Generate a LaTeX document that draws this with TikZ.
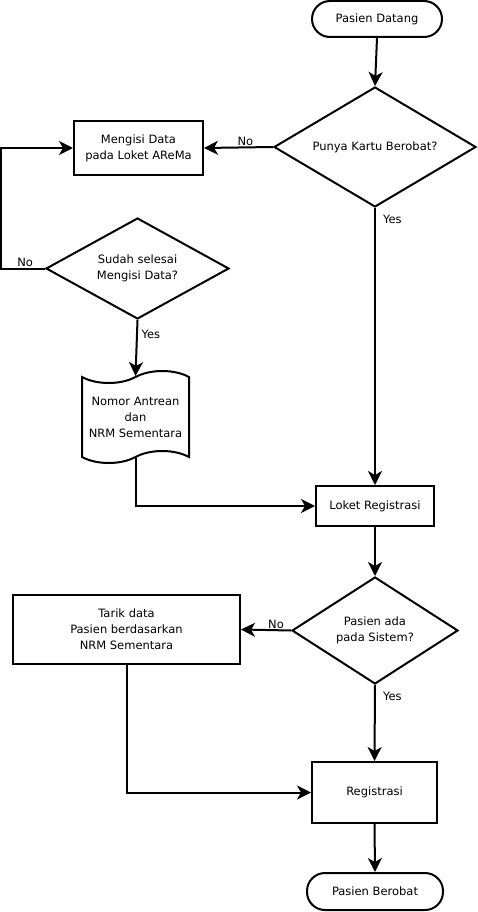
\documentclass[tikz,border=0pt]{standalone}
\usepackage{fontspec}
\setmainfont{DejaVu Sans}
\usetikzlibrary{shapes.geometric,shapes.symbols,arrows.meta,positioning}

\begin{document}
\begin{tikzpicture}[x=1pt,y=-1pt,line width=2pt,
    every node/.style={font=\fontsize{11.5}{16}\selectfont,align=center,inner sep=2pt},
    terminal/.style={draw,rectangle,rounded corners=18pt},
    prosesbox/.style={draw,rectangle},
    keputusan/.style={draw,diamond,inner sep=0pt,aspect=1.7},
    dokumen/.style={draw,tape,tape bend height=12pt},
    arr/.style={-{Stealth[length=14pt,width=14pt,inset=4pt]}},
    lbl/.style={font=\fontsize{11.5}{13}\selectfont,inner sep=1pt}]
\useasboundingbox (0,0) rectangle (477,912);

\node[terminal,minimum width=130pt,minimum height=36pt] (datang) at (377,19) {Pasien Datang};
\node[keputusan,minimum width=202pt,minimum height=120pt] (kartu) at (375,147) {Punya Kartu Berobat?};
\node[prosesbox,minimum width=129pt,minimum height=54pt] (isi) at (138.5,148) {Mengisi Data\\pada Loket AReMa};
\node[keputusan,minimum width=183pt,minimum height=101pt,aspect=1.8] (selesai) at (137.5,268.5) {Sudah selesai\\Mengisi Data?};
\node[dokumen,minimum width=107pt,minimum height=92pt] (nomor) at (135.5,417) {Nomor Antrean\\dan\\NRM Sementara};
\node[prosesbox,minimum width=118pt,minimum height=40pt] (loket) at (375,506) {Loket Registrasi};
\node[keputusan,minimum width=166pt,minimum height=107pt,aspect=1.55] (sistem) at (375,630.5) {Pasien ada\\pada Sistem?};
\node[prosesbox,minimum width=227pt,minimum height=69pt] (tarik) at (126.5,629.5) {Tarik data\\Pasien berdasarkan\\NRM Sementara};
\node[prosesbox,minimum width=125pt,minimum height=61pt] (regis) at (374.5,792.5) {Registrasi};
\node[terminal,minimum width=136pt,minimum height=37pt] (berobat) at (375,891.5) {Pasien Berobat};

\coordinate (kiri) at (1,268.5);

\draw[arr] (datang.south) -- (kartu.north);
\draw[arr] (kartu.west) -- node[lbl,above,pos=0.4]{No} (isi.east);
\draw[arr] (kartu.south) -- node[lbl,pos=0,below right=5pt and 6pt]{Yes} (loket.north);
\draw[arr] (selesai.west) -- node[lbl,above,pos=0.45]{No} (kiri) |- (isi.west);
\draw[arr] (selesai.south) -- node[lbl,pos=0,below right=8pt and 2pt]{Yes} (nomor.north);
\draw[arr] (nomor.south) |- (loket.west);
\draw[arr] (loket.south) -- (sistem.north);
\draw[arr] (sistem.west) -- node[lbl,above,pos=0.3]{No} (tarik.east);
\draw[arr] (sistem.south) -- node[lbl,pos=0,below right=5pt and 6pt]{Yes} (regis.north);
\draw[arr] (tarik.south) |- (regis.west);
\draw[arr] (regis.south) -- (berobat.north);

\end{tikzpicture}
\end{document}
